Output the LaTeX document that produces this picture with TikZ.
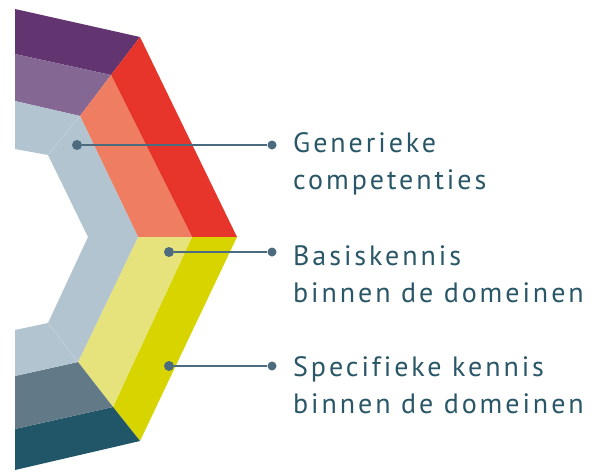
\documentclass[tikz,border=0pt]{standalone}
\usepackage{fontspec}
\setmainfont{PT Sans}[LetterSpace=10.5, Ligatures=NoCommon]

\definecolor{darkpurple}{RGB}{98,52,112}
\definecolor{lightpurple}{RGB}{133,103,148}
\definecolor{darkred}{RGB}{232,53,43}
\definecolor{salmon}{RGB}{239,125,98}
\definecolor{darkyellow}{RGB}{216,212,0}
\definecolor{lightyellow}{RGB}{230,226,124}
\definecolor{darkteal}{RGB}{32,86,103}
\definecolor{slate}{RGB}{98,121,135}
\definecolor{bluegrey}{RGB}{178,196,207}
\definecolor{seam}{RGB}{196,210,219}
\definecolor{linecol}{RGB}{77,107,126}
\definecolor{textcol}{RGB}{42,87,103}

\begin{document}
\begin{tikzpicture}[x=1pt, y=-1pt,
    dot/.style={circle, fill=linecol, inner sep=0pt, minimum size=#1},
    dot/.default=9pt,
    callout/.style={linecol, line width=2.2pt},
    legend/.style={anchor=base west, inner sep=0pt, align=left, text=textcol,
        font=\fontsize{28}{36.5}\selectfont}]

    \useasboundingbox (0,0) rectangle (602,472);

    % band boundaries, outside to inside
    \coordinate (o1) at (15,9);    \coordinate (m1) at (15,54);
    \coordinate (o2) at (140,37);  \coordinate (m2) at (111,75);
    \coordinate (o3) at (237,237); \coordinate (m3) at (192,237);
    \coordinate (o4) at (140,441); \coordinate (m4) at (113,407);
    \coordinate (o5) at (15,470);  \coordinate (m5) at (15,429);

    \coordinate (g1) at (15,101);  \coordinate (n1) at (15,149);
    \coordinate (g2) at (80,116);  \coordinate (n2) at (48,155);
    \coordinate (g3) at (138,237); \coordinate (n3) at (88,237);
    \coordinate (g4) at (78,362);  \coordinate (n4) at (48,323);
    \coordinate (g5) at (15,376);  \coordinate (n5) at (15,330);

    % outer and middle bands
    \foreach \a/\b/\outer/\middle in {1/2/darkpurple/lightpurple,
                                      2/3/darkred/salmon,
                                      3/4/darkyellow/lightyellow,
                                      4/5/darkteal/slate} {
        \fill[\outer] (o\a) -- (o\b) -- (m\b) -- (m\a) -- cycle;
        \fill[\middle] (m\a) -- (m\b) -- (g\b) -- (g\a) -- cycle;
    }

    % inner band
    \fill[bluegrey] (g1) -- (g2) -- (g3) -- (g4) -- (g5)
        -- (n5) -- (n4) -- (n3) -- (n2) -- (n1) -- cycle;
    \draw[seam, line width=0.6pt] (g2) -- (n2);
    \draw[seam, line width=0.6pt] (g4) -- (n4);

    % callouts
    \node[dot=10pt] (gen) at (77,145) {};
    \node[dot] (genend) at (272,145) {};
    \node[dot=10pt] (bas) at (169,252) {};
    \node[dot] (basend) at (272,252) {};
    \node[dot=10pt] (spe) at (169,366) {};
    \node[dot] (speend) at (272,366) {};

    \draw[callout] (gen) -- (genend);
    \draw[callout] (bas) -- (basend);
    \draw[callout] (spe) -- (speend);

    % labels (base anchor sits on the second line)
    \node[legend] (gentext) at (293,189) {Generieke\\competenties};
    \node[legend] (bastext) at (293,302) {Basiskennis\\binnen de domeinen};
    \node[legend] (spetext) at (293,413) {Specifieke kennis\\binnen de domeinen};

\end{tikzpicture}
\end{document}
